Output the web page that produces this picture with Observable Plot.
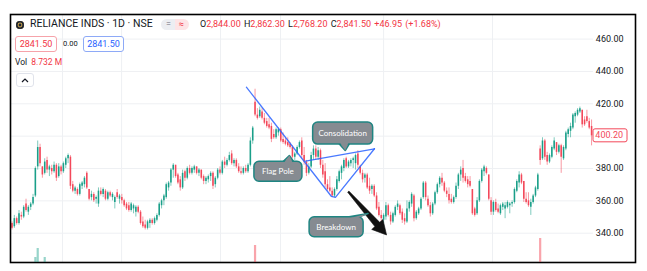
<!DOCTYPE html>
<html><head><meta charset="utf-8">
<script src="https://cdn.jsdelivr.net/npm/d3@7"></script>
<script src="https://cdn.jsdelivr.net/npm/@observablehq/plot@0.6"></script>
<style>
html,body{margin:0;padding:0;background:#fff;}
#wrap{position:relative;width:647px;height:271px;overflow:hidden;font-family:Roboto,"Noto Sans",sans-serif;}
#wrap svg{position:absolute;left:0;top:0;}
.h{position:absolute;white-space:nowrap;color:#131722;line-height:1;}
.r{color:#f23645;}
.box{position:absolute;box-sizing:border-box;border-radius:3px;font-size:9px;display:flex;align-items:center;justify-content:center;background:#fff;}
</style></head><body>
<div id="wrap"></div>
<script>
// ---- candle data (daily OHLC) ----
const open = [
346,344,349,346,351,350,358,353,356,358,
363,381,393,381,377,385,379,380,378,382,
375,381,378,382,386,387,370,366,367,364,
369,370,377,367,362,364,361,358,366,364,
366,361,365,362,359,365,361,362,360,358,
357,354,355,353,356,353,347,345,343,346,
348,346,348,351,357,360,362,368,371,379,
382,376,373,368,378,374,380,377,379,381,
377,379,375,372,373,375,377,370,374,379,
377,384,382,385,389,383,385,381,378,377,
380,378,382,397,421,413,412,415,411,409,
407,406,401,399,402,404,398,397,396,395,
393,387,389,393,397,388,384,377,381,388,
392,387,391,382,378,370,368,366,363,367,
372,377,380,386,381,383,385,383,389,381,
377,374,376,369,367,369,363,356,351,348,
350,357,351,347,351,356,357,353,349,347,
355,358,363,349,352,355,362,371,361,357,
352,358,365,370,374,371,366,364,361,359,
362,369,376,380,375,373,372,367,355,352,
360,372,378,380,376,360,353,359,355,352,
356,355,356,357,358,359,366,371,376,372,
361,360,356,359,363,367,392,386,397,388,
384,387,392,396,390,394,386,392,401,403,
405,412,413,415,416,410,412,409,406];
const high = [
347,351,350,354,353,357,361,357,359,364,
381,397,395,381,386,387,382,382,384,383,
383,382,384,387,389,388,372,369,368,371,
372,375,378,367,366,365,363,368,368,368,
367,366,366,365,363,367,364,364,361,359,
359,359,358,357,357,354,350,348,348,349,
349,350,352,359,361,364,371,372,380,383,
382,377,375,379,379,381,382,381,382,381,
380,379,376,375,376,378,378,375,380,381,
385,387,386,390,391,386,386,383,381,381,
382,383,399,406,429,417,418,417,414,411,
411,408,404,405,405,405,402,399,399,396,
394,390,394,397,399,393,385,383,390,394,
394,393,392,385,383,373,375,368,368,375,
379,382,386,387,385,386,387,389,391,382,
379,377,377,374,370,370,365,359,354,352,
359,358,353,353,357,360,358,355,352,360,
360,365,364,354,356,362,372,372,363,359,
359,366,371,375,377,372,368,368,364,363,
371,377,381,385,377,375,375,367,356,362,
373,380,382,381,376,362,360,361,358,358,
359,359,360,359,360,368,373,378,377,372,
365,365,361,364,369,377,394,399,398,390,
389,394,399,396,395,395,394,403,405,408,
414,415,417,418,416,412,416,411,410];
const low = [
342,343,345,345,348,349,353,351,354,357,
362,379,381,374,376,377,375,376,377,372,
374,376,377,380,383,367,365,364,363,363,
367,368,367,360,360,359,358,356,363,362,
360,360,362,360,355,361,358,358,356,354,
353,353,352,350,352,345,343,342,342,343,
345,345,347,350,355,357,361,366,369,374,
374,370,366,367,372,373,376,376,377,376,
375,373,370,370,371,372,367,368,373,376,
376,380,381,384,382,381,380,377,376,376,
377,377,381,395,412,410,411,410,407,405,
404,396,398,398,400,396,395,394,393,392,
386,385,388,392,386,382,375,376,380,385,
385,385,380,374,368,366,365,362,362,366,
371,373,378,380,380,381,380,379,380,376,
371,371,367,364,364,362,354,350,347,346,
348,350,345,346,350,354,351,346,345,346,
353,356,347,348,351,354,361,360,356,350,
351,357,364,368,369,365,362,358,358,358,
361,367,372,371,371,368,368,351,350,351,
359,371,375,376,360,351,351,353,352,351,
354,349,355,352,356,358,365,368,370,359,
358,356,351,358,362,366,382,385,385,382,
383,386,391,388,389,377,385,391,399,399,
404,408,412,414,405,406,408,404,394];
const close = [
343,349,346,352,350,356,354,356,358,362,
380,393,383,376,384,379,381,378,382,374,
381,378,383,386,388,369,366,368,364,370,
371,374,368,361,364,360,362,366,364,367,
361,365,363,364,362,362,363,360,357,355,
354,358,357,356,353,346,344,343,347,348,
346,349,351,358,360,363,370,371,379,382,
375,371,368,377,374,380,377,380,381,377,
379,374,372,374,375,377,369,374,379,377,
384,382,385,388,383,385,381,378,377,380,
378,382,397,405,413,411,416,411,408,406,
405,398,399,404,404,397,396,395,394,393,
387,389,393,396,388,384,377,381,388,392,
387,391,382,376,370,367,366,363,367,373,
378,381,385,381,384,385,386,388,382,377,
373,376,368,366,369,363,355,351,349,351,
357,351,347,352,356,358,352,348,347,355,
359,364,349,353,355,361,371,362,357,352,
358,365,370,374,371,366,364,360,359,362,
369,376,379,374,372,370,369,352,351,360,
372,379,381,377,361,353,359,354,353,357,
358,357,359,358,359,367,372,376,371,361,
359,357,359,363,368,376,385,397,387,384,
388,393,397,390,394,387,393,402,404,406,
413,414,416,417,407,407,409,405,400.2];

// volume spikes visible above the cropped volume pane (millions)
const volDays = [10, 11, 14, 104, 226];
const volMillions = [21.5, 26, 21.5, 27.5, 31];

// price axis ticks and vertical grid (session boundaries, candle index)
const priceTicks = [340, 360, 380, 400, 420, 440, 460];
const timeGrid = [21.6, 46.9, 89.2, 114.9, 159, 205.6];

// drawings (candle index, price)
const flagPole = [[100.3, 430.3], [136.7, 362.7], [138.4, 362.1], [155.1, 392.2]];
const upperLine = [[125.6, 384.5], [155.1, 392.2]];
const breakdownArrow = [[144.1, 365.4], [160.5, 338.6]];
const callouts = [
  {text: "Consolidation", cx: 141.7, cy: 401.6, tx: 142.8, ty: 390.8, w: 60, h: 22},
  {text: "Flag Pole", cx: 114.0, cy: 378.0, tx: 118.9, ty: 387.7, w: 48, h: 20},
  {text: "Breakdown", cx: 138.9, cy: 343.7, tx: 152.6, ty: 351.9, w: 54, h: 20}
];

// header texts
const symbolTitle = "RELIANCE INDS · 1D · NSE";
const ohlcLabels = ["O", "H", "L", "C"];
const ohlcValues = ["2,844.00", "2,862.30", "2,768.20", "2,841.50"];
const changeText = "+46.95 (+1.68%)";
const bidText = "2841.50", spreadText = "0.00", askText = "2841.50";
const volText = "8.732 M";

const UP = "#1a9f89", DOWN = "#f3485a", BLUE = "#2962ff";
const N = close.length;
const candles = close.map((c, i) => ({i, o: open[i], h: high[i], l: low[i], c, col: c >= open[i] ? UP : DOWN}));
const vols = volDays.map((d, k) => ({i: d, v: volMillions[k], col: candles[d].col === UP ? "rgba(8,153,129,0.42)" : "rgba(242,54,69,0.45)"}));

const W = 647, H = 271;
const margins = {marginLeft: 10, marginRight: 12, marginTop: 14, marginBottom: 9};
const xScale = {type: "linear", domain: [0, N - 1], range: [11.5, 11.5 + 2.337 * (N - 1)], axis: null};

const plot = Plot.plot({
  width: W, height: H, ...margins,
  x: xScale,
  y: {domain: [340, 460], range: [232.7, 38.6], axis: null},
  marks: [
    Plot.ruleX(timeGrid, {stroke: "#eef0f3", strokeWidth: 1}),
    Plot.ruleY(priceTicks, {x1: -0.7, x2: 248.8, stroke: "#eef0f3", strokeWidth: 1}),
    Plot.text(priceTicks, {y: d => d, frameAnchor: "right", dx: -12, textAnchor: "end", text: d => d.toFixed(2),
      fontSize: 9, fill: "#131722", fontFamily: "Roboto"}),
    Plot.ruleX(candles, {x: "i", y1: "l", y2: "h", stroke: "col", strokeWidth: 0.7, strokeOpacity: 0.8}),
    Plot.ruleX(candles, {x: "i", y1: "o", y2: "c", stroke: "col", strokeWidth: 1.55}),
    Plot.line(flagPole, {x: d => d[0], y: d => d[1], stroke: BLUE, strokeWidth: 1.3, strokeOpacity: 0.85}),
    Plot.line(upperLine, {x: d => d[0], y: d => d[1], stroke: BLUE, strokeWidth: 1.3, strokeOpacity: 0.85}),
    Plot.frame({stroke: "#000", strokeWidth: 1.6})
  ]
});

const volPlot = Plot.plot({
  width: W, height: H, ...margins,
  style: {background: "transparent", pointerEvents: "none"},
  x: xScale,
  y: {domain: [0, 40], range: [300, 220], axis: null},
  marks: [
    Plot.ruleX(vols, {x: "i", y1: 0, y2: "v", stroke: "col", strokeWidth: 2.2, clip: true})
  ]
});

// overlay drawings using the plot's scales
const xs = plot.scale("x"), ys = plot.scale("y");
const svg = d3.select(plot);
const px = v => xs.apply(v), py = v => ys.apply(v);

// breakdown arrow (tapered, filled)
{
  const [a, b] = breakdownArrow;
  const T = [px(a[0]), py(a[1])], P = [px(b[0]), py(b[1])];
  const dx = P[0] - T[0], dy = P[1] - T[1], len = Math.hypot(dx, dy);
  const u = [dx / len, dy / len], n = [-u[1], u[0]];
  const headL = 14, Hb = [P[0] - u[0] * headL, P[1] - u[1] * headL];
  const pt = (p, k) => [p[0] + n[0] * k, p[1] + n[1] * k];
  const pts = [pt(T, 0.8), pt(Hb, 3.2), pt(Hb, 7.5), P, pt(Hb, -7.5), pt(Hb, -3.2), pt(T, -0.8)];
  svg.append("path").attr("d", "M" + pts.map(p => p.join(",")).join("L") + "Z").attr("fill", "#111").attr("stroke", "#111").attr("stroke-width", 0.6).attr("stroke-linejoin", "round");
}

// callouts
for (const c of callouts) {
  const cx = px(c.cx), cy = py(c.cy), tx = px(c.tx), ty = py(c.ty);
  const x0 = cx - c.w / 2, y0 = cy - c.h / 2, x1 = cx + c.w / 2, y1 = cy + c.h / 2;
  const edgeY = ty < y0 ? y0 : y1;
  const bx = Math.max(x0 + 8, Math.min(x1 - 8, tx));
  const base = [[bx - 6, edgeY], [bx + 4, edgeY]];
  const tail = `M${base[0][0]},${base[0][1]}L${tx},${ty}L${base[1][0]},${base[1][1]}Z`;
  const g = svg.append("g");
  g.append("path").attr("d", tail).attr("fill", "#868b91").attr("stroke", "#1f8582").attr("stroke-width", 1.5).attr("stroke-linejoin", "round");
  g.append("rect").attr("x", x0).attr("y", y0).attr("width", c.w).attr("height", c.h).attr("rx", 5)
    .attr("fill", "#868b91").attr("stroke", "#1f8582").attr("stroke-width", 1.5);
  const inset = edgeY === y0 ? 1.2 : -1.2;
  g.append("path").attr("d", `M${base[0][0] + 0.8},${edgeY + inset}L${tx},${ty}L${base[1][0] - 0.8},${edgeY + inset}Z`).attr("fill", "#868b91");
  g.append("text").attr("x", cx).attr("y", cy).attr("dy", "0.35em").attr("text-anchor", "middle")
    .attr("fill", "#fff").attr("font-size", 8).attr("font-family", "Lato, Roboto, sans-serif").text(c.text);
}

// last price label
{
  const last = close[N - 1];
  const yy = py(last);
  svg.append("rect").attr("x", 593).attr("y", yy - 6.5).attr("width", 34).attr("height", 13).attr("rx", 2)
    .attr("fill", "#fff").attr("stroke", DOWN).attr("stroke-width", 1);
  svg.append("text").attr("x", 623).attr("y", yy).attr("dy", "0.35em").attr("text-anchor", "end")
    .attr("fill", DOWN).attr("font-size", 9).attr("font-family", "Roboto").text(last.toFixed(2));
}

const wrap = document.getElementById("wrap");
wrap.appendChild(plot);
wrap.appendChild(volPlot);

// header
function el(html, style, cls) {
  const d = document.createElement("div");
  d.className = cls || "h";
  d.innerHTML = html;
  Object.assign(d.style, style);
  wrap.appendChild(d);
  return d;
}
el("", {left: "15.5px", top: "20.5px", width: "8px", height: "8px", borderRadius: "50%", background: "#1c2230", boxShadow: "inset 0 0 0 1.6px #1c2230, inset 0 0 0 2.6px #c9a44a"}, "h");
el(symbolTitle, {left: "30px", top: "19px", fontSize: "10.5px"});
el('<span style="color:#6a6d78;padding:0 4px 0 5px;background:#eceef2;border-radius:6px 0 0 6px;display:inline-block;height:11px;line-height:11px">=</span><span style="color:#f23645;padding:0 5px 0 4px;background:#fde4e6;border-radius:0 6px 6px 0;display:inline-block;height:11px;line-height:11px">≈</span>',
  {left: "161px", top: "19px", fontSize: "9px"});
el(ohlcLabels.map((l, k) => `${l}<span class="r">${ohlcValues[k]}</span>`).join(" ") + ` <span class="r">${changeText}</span>`,
  {left: "200px", top: "19.5px", fontSize: "9px", wordSpacing: "1px"});
el(bidText, {left: "15px", top: "36px", width: "42px", height: "16px", border: "1px solid #f6a3aa", color: "#f23645"}, "box");
el(spreadText, {left: "63px", top: "40px", fontSize: "7.5px"});
el(askText, {left: "83px", top: "36px", width: "41px", height: "16px", border: "1px solid #8eaaf7", color: "#2962ff"}, "box");
el(`Vol <span class="r" style="margin-left:2px">${volText}</span>`, {left: "15px", top: "58px", fontSize: "8.5px"});
el('<svg width="8" height="6" style="position:static"><polyline points="1,5 4,2 7,5" fill="none" stroke="#131722" stroke-width="1.2"/></svg>',
  {left: "16px", top: "73px", width: "18px", height: "14px", border: "1px solid #e0e3eb"}, "box");
</script>
</body></html>
